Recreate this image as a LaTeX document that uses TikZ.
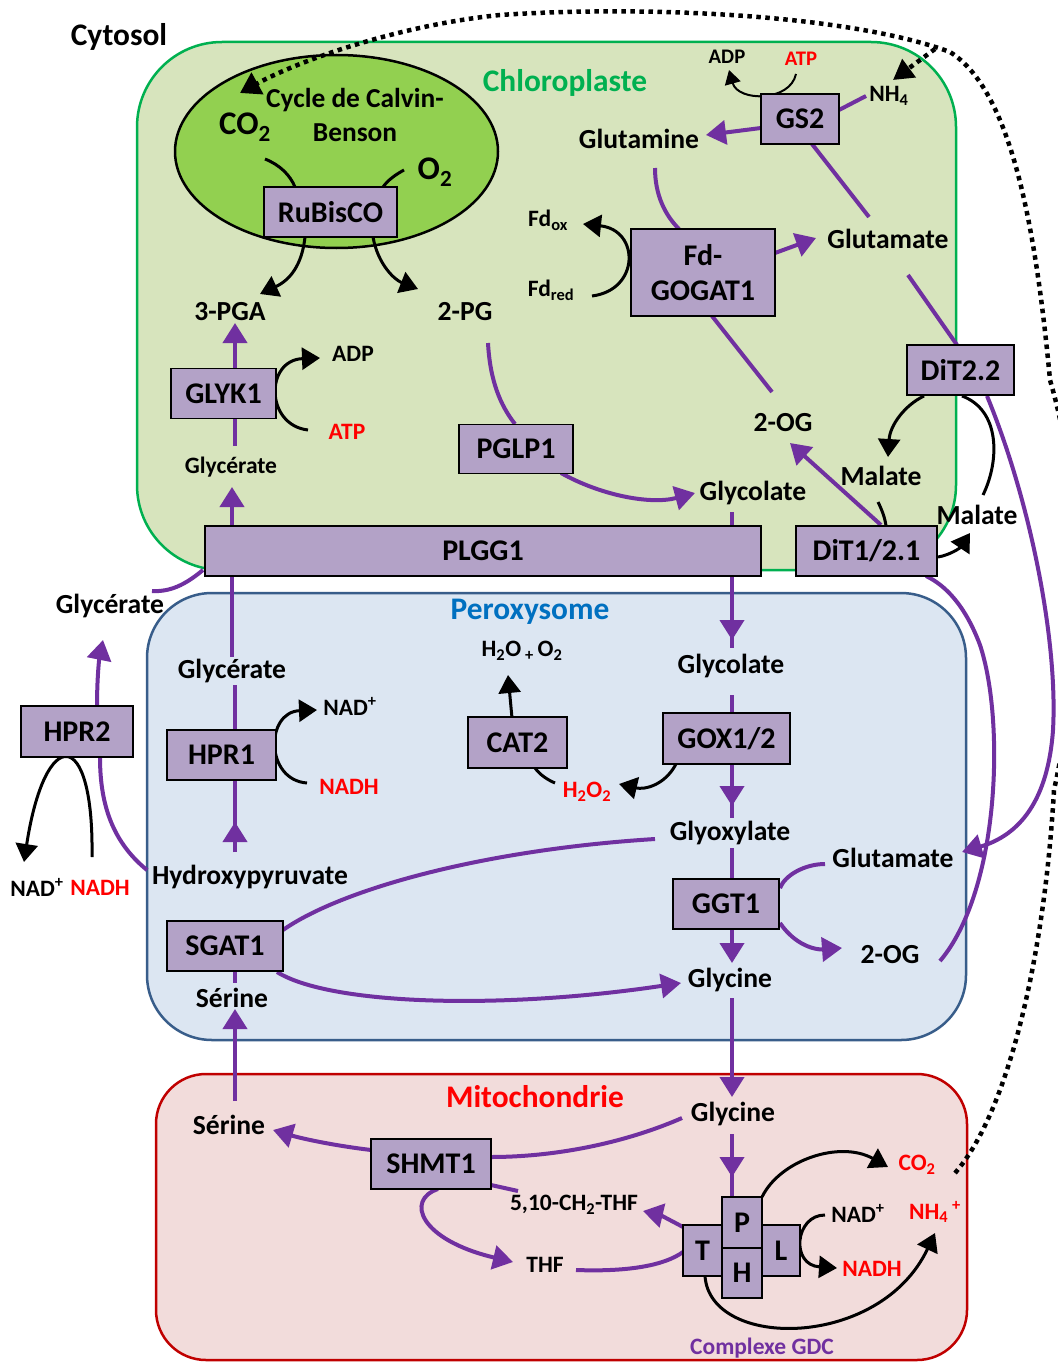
\documentclass[tikz,border=0pt]{standalone}
\usepackage{fontspec}
\setmainfont{Carlito}
\usetikzlibrary{arrows.meta}
\definecolor{purp}{HTML}{7030A0}
\definecolor{enzf}{HTML}{B3A2C7}
\definecolor{chlf}{HTML}{D7E4BD}
\definecolor{chld}{HTML}{00B050}
\definecolor{perf}{HTML}{DCE6F2}
\definecolor{perd}{HTML}{385D8A}
\definecolor{mitf}{HTML}{F2DCDB}
\definecolor{mitd}{HTML}{C00000}
\definecolor{calf}{HTML}{92D050}
\definecolor{ttlblue}{HTML}{0070C0}
\definecolor{rd}{HTML}{FF0000}
\pgfdeclarelayer{back}
\pgfdeclarelayer{conn}
\pgfsetlayers{back,conn,main}
\tikzset{
  enz/.style={draw=black, fill=enzf, line width=1.5pt, inner sep=0pt, font=\fontsize{30}{35}\selectfont\bfseries},
  lbl/.style={inner sep=0pt, font=\fontsize{27.6}{29}\selectfont\bfseries},
  slbl/.style={inner sep=0pt, font=\fontsize{23.5}{25}\selectfont\bfseries},
  ttl/.style={inner sep=0pt, font=\fontsize{31.4}{33}\selectfont\bfseries},
  pl/.style={draw=purp, line width=4pt},
  pa/.style={pl, -{Triangle[length=20pt,width=24pt]}},
  bl/.style={draw=black, line width=3pt},
  ba/.style={bl, -{Triangle[length=18pt,width=22pt]}},
  ba2/.style={draw=black, line width=2pt, -{Triangle[length=14pt,width=16pt]}},
  dotl/.style={draw=black, line width=4.5pt, dash pattern=on 4.5pt off 4.5pt},
}
\begin{document}
\begin{tikzpicture}[x=1pt,y=-1pt]
\useasboundingbox (0,0) rectangle (1057,1362);
\clip (0,0) rectangle (1057,1362);

% ---------- compartments ----------
\begin{pgfonlayer}{back}
\fill[white] (0,0) rectangle (1057,1362);
\draw[draw=chld, fill=chlf, line width=2.5pt, rounded corners=85pt] (137,42) rectangle (956,570);
\draw[draw=perd, fill=perf, line width=2.5pt, rounded corners=65pt] (147,593) rectangle (966,1040);
\draw[draw=mitd, fill=mitf, line width=2.5pt, rounded corners=50pt] (156,1074) rectangle (967,1360);
\draw[fill=calf, line width=2.5pt] (336.5,151.5) ellipse [x radius=161.5, y radius=96.5];
\end{pgfonlayer}

% ---------- titles ----------
\node[ttl] (cyto) at (119,37) {Cytosol};
\node[ttl, text=chld] (chlt) at (565,83) {Chloroplaste};
\node[ttl, text=ttlblue] (pert) at (530,612) {Peroxysome};
\node[ttl, text=rd] (mitt) at (535,1097) {Mitochondrie};

% ---------- enzymes ----------
\node[enz, minimum width=133pt, minimum height=50pt] (rub) at (330.5,212) {RuBisCO};
\node[enz, minimum width=105pt, minimum height=50pt] (glyk) at (223.5,393.5) {GLYK1};
\node[enz, minimum width=114pt, minimum height=49pt] (pglp) at (516,449) {PGLP1};
\node[enz, minimum width=556pt, minimum height=50pt] (plgg) at (483,551) {PLGG1};
\node[enz, minimum width=78pt, minimum height=50pt] (gs) at (800,119) {GS2};
\node[enz, minimum width=144pt, minimum height=87pt, align=center] (gogat) at (703,272.5) {Fd-\\GOGAT1};
\node[enz, minimum width=107pt, minimum height=50pt] (dit22) at (960.5,370) {DiT2.2};
\node[enz, minimum width=141pt, minimum height=50pt] (dit21) at (866.5,551) {DiT1/2.1};
\node[enz, minimum width=112pt, minimum height=51pt] (hpr2) at (77,731.5) {HPR2};
\node[enz, minimum width=109pt, minimum height=50pt] (hpr1) at (221.5,755) {HPR1};
\node[enz, minimum width=99pt, minimum height=51pt] (cat) at (517.5,742.5) {CAT2};
\node[enz, minimum width=127pt, minimum height=51pt] (gox) at (726.5,738.5) {GOX1/2};
\node[enz, minimum width=116pt, minimum height=50pt] (sgat) at (225,946) {SGAT1};
\node[enz, minimum width=106pt, minimum height=50pt] (ggt) at (726,904) {GGT1};
\node[enz, minimum width=120pt, minimum height=50pt] (shmt) at (431,1164) {SHMT1};
\node[enz, minimum width=40pt, minimum height=51pt] (gP) at (742,1222.5) {P};
\node[enz, minimum width=40pt, minimum height=50pt] (gH) at (742,1273) {H};
\node[enz, minimum width=39pt, minimum height=51pt] (gT) at (702.5,1250.5) {T};
\node[enz, minimum width=38pt, minimum height=51pt] (gL) at (781,1250.5) {L};

% ---------- labels ----------
\node[lbl, font=\fontsize{27.4}{29}\selectfont\bfseries] (calv1) at (355,100) {Cycle de Calvin-};
\node[lbl, font=\fontsize{27.4}{29}\selectfont\bfseries] (calv2) at (355,133) {Benson};
\node[ttl, font=\fontsize{33}{35}\selectfont\bfseries] (co2c) at (245,127) {CO\textsubscript{2}};
\node[ttl, font=\fontsize{33}{35}\selectfont\bfseries] (o2c) at (435,172) {O\textsubscript{2}};
\node[lbl] (pga) at (230,312) {3-PGA};
\node[lbl] (pg) at (465,312) {2-PG};
\node[slbl] (adp1) at (353,354) {ADP};
\node[slbl, text=rd] (atp1) at (347,432) {ATP};
\node[slbl] (glyc1) at (231,467) {Glycérate};
\node[lbl] (glyco1) at (753,493) {Glycolate};
\node[lbl] (og1) at (783,423) {2-OG};
\node[lbl] (mal1) at (881,476) {Malate};
\node[lbl] (mal2) at (977,515) {Malate};
\node[slbl, font=\fontsize{20.7}{22}\selectfont\bfseries] (adp2) at (727,57) {ADP};
\node[slbl, font=\fontsize{20.7}{22}\selectfont\bfseries, text=rd] (atp2) at (801,59) {ATP};
\node[slbl] (nh4c) at (889,96) {NH\textsubscript{4}};
\node[lbl] (glnm) at (639,139) {Glutamine};
\node[lbl] (glu1) at (888,239) {Glutamate};
\node[slbl] (fdox) at (548,220) {Fd\textsubscript{ox}};
\node[slbl] (fdred) at (551,290) {Fd\textsubscript{red}};
\node[lbl] (glyc0) at (110,606) {Glycérate};
\node[lbl] (glyc2) at (232,671) {Glycérate};
\node[slbl] (h2o) at (522,651) {H\textsubscript{2}O\,\textsubscript{+}\,O\textsubscript{2}};
\node[lbl] (glyco2) at (731,666) {Glycolate};
\node[slbl] (nad1) at (350,706) {NAD\textsuperscript{+}};
\node[slbl, text=rd] (nadh1) at (349,787) {NADH};
\node[slbl, text=rd] (h2o2) at (587,792) {H\textsubscript{2}O\textsubscript{2}};
\node[lbl] (glyox) at (730,833) {Glyoxylate};
\node[lbl] (glu2) at (893,858) {Glutamate};
\node[lbl] (hpyr) at (250,877) {Hydroxypyruvate};
\node[slbl] (nad0) at (37,887) {NAD\textsuperscript{+}};
\node[slbl, text=rd] (nadh0) at (100,888) {NADH};
\node[lbl] (og2) at (890,955) {2-OG};
\node[lbl] (gly1) at (730,980) {Glycine};
\node[lbl] (ser1) at (232,998) {Sérine};
\node[lbl] (gly2) at (733,1114) {Glycine};
\node[lbl] (ser2) at (229,1125) {Sérine};
\node[slbl, text=rd] (co2m) at (917,1165) {CO\textsubscript{2}};
\node[slbl] (mthf) at (574,1205) {5,10-CH\textsubscript{2}-THF};
\node[slbl] (nad2) at (858,1213) {NAD\textsuperscript{+}};
\node[slbl, text=rd] (nh4m) at (935,1212) {NH\textsubscript{4}\,\textsuperscript{+}};
\node[slbl] (thf) at (545,1265) {THF};
\node[slbl, text=rd] (nadh2) at (872,1269) {NADH};
\node[slbl, text=purp] (gdc) at (762,1348) {Complexe GDC};

% ---------- connectors ----------
\begin{pgfonlayer}{conn}
\draw[dotl, -{Triangle[length=20pt,width=24pt]}] (955,1173) .. controls (1010,1110) and (1045,950) .. (1054,790) .. controls (1085,650) and (1085,500) .. (1050,380) .. controls (1035,220) and (1010,90) .. (950,52) .. controls (850,15) and (650,5) .. (500,15) .. controls (400,25) and (300,60) .. (240,93);
\draw[dotl, -{Triangle[length=20pt,width=22pt]}] (935,49) -- (893,80);

\draw[bl] (265,159) .. controls (280,165) and (290,175) .. (295,187);
\draw[bl] (404,170) .. controls (395,175) and (388,180) .. (383,187);
\draw[ba] (305,237) .. controls (302,265) and (290,280) .. (260,294);
\draw[ba] (373,237) .. controls (378,265) and (395,280) .. (418,289);
\draw[ba] (308,430) .. controls (265,425) and (265,360) .. (320,358);
\draw[pa] (235,369) -- (235,323);
\draw[pl] (235,446) -- (235,418);
\draw[pa] (232,657) -- (232,487);
\draw[pl] (488,343) .. controls (490,380) and (500,405) .. (515,424);
\draw[pa] (561,473) .. controls (600,495) and (650,505) .. (695,493);
\draw[pl] (732,625) -- (732,648);
\draw[pa] (732,512) -- (732,640);
\draw[ba2] (796,74) .. controls (790,102) and (738,102) .. (729,70);
\draw[pl] (866,96) -- (839,110);
\draw[pa] (761,128) -- (706,135);
\draw[pl] (812,144) -- (869,217);
\draw[pl] (655,168) .. controls (655,195) and (665,215) .. (679,229);
\draw[ba] (592,296) .. controls (640,290) and (640,230) .. (583,224);
\draw[pa] (775,253) -- (816,238);
\draw[pl] (712,316) -- (772,392);
\draw[pl] (908,275) -- (957,345);
\draw[ba] (924,396) .. controls (905,405) and (890,425) .. (888,457);
\draw[bl] (878,502) .. controls (882,510) and (885,518) .. (886,526);
\draw[ba] (938,557) .. controls (950,555) and (960,548) .. (970,533);
\draw[bl] (983,495) .. controls (1000,460) and (1000,410) .. (962,396);
\draw[pa] (881,525) -- (790,443);
\draw[pa] (987,396) .. controls (1030,500) and (1058,640) .. (1053,730) .. controls (1048,800) and (1020,835) .. (962,852);
\draw[pl] (940,961) .. controls (1000,890) and (1005,720) .. (980,645) .. controls (965,605) and (945,585) .. (926,576);
\draw[pl] (203,570) .. controls (185,585) and (170,592) .. (152,591);
\draw[pl] (147,870) .. controls (110,840) and (100,800) .. (100,757);
\draw[pa] (97,706) .. controls (97,680) and (99,660) .. (103,640);
\draw[ba] (92,857) .. controls (94,725) and (45,725) .. (24,862);
\draw[pl] (235,730) -- (235,685);
\draw[pl] (235,852) -- (235,780);
\draw[pa] (235,852) -- (235,822);
\draw[ba] (307,783) .. controls (265,780) and (265,712) .. (317,710);
\draw[ba] (512,718) -- (508,675);
\draw[bl] (555,783) .. controls (548,780) and (540,775) .. (535,768);
\draw[ba] (676,764) .. controls (665,785) and (645,790) .. (619,784);
\draw[pl] (732,695) -- (732,713);
\draw[pl] (732,795) -- (732,818);
\draw[pa] (732,764) -- (732,806);
\draw[pl] (732,848) -- (732,879);
\draw[pa] (732,929) -- (732,963);
\draw[pl] (825,864) .. controls (805,864) and (785,875) .. (780,888);
\draw[pa] (780,923) .. controls (795,945) and (815,950) .. (842,948);
\draw[pl] (283,930) .. controls (340,890) and (480,850) .. (655,839);
\draw[pa] (277,972) .. controls (330,1005) and (500,1010) .. (681,983);
\draw[pl] (235,971) -- (235,983);
\draw[pa] (235,1101) -- (235,1009);
\draw[pa] (732,998) -- (732,1097);
\draw[pl] (732,1170) -- (732,1197);
\draw[pa] (732,1134) -- (732,1177);
\draw[pl] (682,1118) .. controls (620,1145) and (550,1157) .. (491,1157);
\draw[pa] (371,1150) .. controls (330,1145) and (300,1138) .. (273,1130);
\draw[pl] (491,1185) -- (518,1191);
\draw[pa] (438,1189) .. controls (405,1200) and (420,1240) .. (513,1262);
\draw[pl] (576,1270) .. controls (630,1272) and (665,1265) .. (683,1252);
\draw[pa] (683,1227) .. controls (670,1220) and (660,1215) .. (643,1211);
\draw[ba] (762,1197) .. controls (780,1160) and (840,1140) .. (888,1167);
\draw[ba] (825,1215) .. controls (795,1215) and (790,1265) .. (837,1268);
\draw[ba] (705,1276) .. controls (710,1350) and (880,1350) .. (935,1233);
\end{pgfonlayer}
\end{tikzpicture}
\end{document}
